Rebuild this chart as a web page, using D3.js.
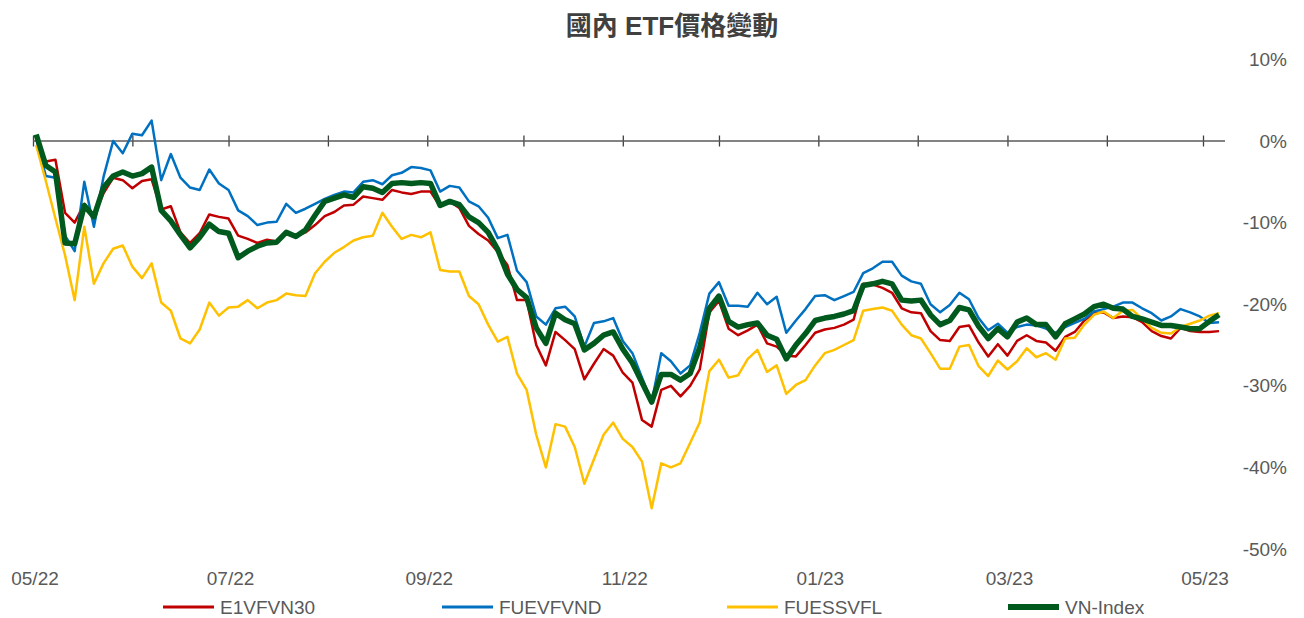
<!DOCTYPE html>
<html>
<head>
<meta charset="utf-8">
<script src="https://cdn.jsdelivr.net/npm/d3@7"></script>
<style>
  body { margin: 0; background: #fff; }
  svg { display: block; }
</style>
</head>
<body>
<div id="chart"></div>
<script>
(function () {
    // sampled every 3 days from 2022-05-02, values in %
    var startDate = new Date(2022, 4, 2);
    var stepDays = 3;

    var e1vfvn30 = [0.3, -2.5, -2.3, -8.8, -10, -7.7, -9.2, -6.4, -4.5, -4.8,
        -5.8, -4.9, -4.7, -8.4, -8, -11.2, -12.5, -11.3, -9.0, -9.3,
        -9.5, -11.6, -12.0, -12.5, -12.1, -12.3, -11.2, -11.7, -11.2, -10.3,
        -9.2, -8.7, -7.9, -7.8, -6.8, -7.0, -7.2, -6.0, -6.3, -6.5,
        -6.2, -6.2, -8.0, -7.4, -8.2, -10.4, -11.4, -12.2, -13.6, -15.2,
        -19.5, -19.5, -25.0, -27.5, -23.4, -24.4, -25.5, -29.2, -27.3, -25.5,
        -26.3, -28.4, -29.6, -34.2, -35, -30.5, -30, -31.3, -30, -28,
        -21, -19.6, -23, -23.8, -23.2, -22.5, -24.8, -25.2, -26.3, -26.4,
        -25, -23.5, -23.1, -22.9, -22.5, -21.9, -17.5, -17.6, -18, -18.6,
        -20.5, -21, -21.1, -23.3, -24.4, -24.5, -22.8, -22.6, -24.7, -26.4,
        -24.9, -26.3, -24.5, -23.8, -24.5, -24.7, -25.7, -24, -23.4, -22,
        -21.1, -21, -21.7, -21.5, -21.6, -22.2, -23.3, -23.9, -24.2, -22.9,
        -23.3, -23.4, -23.4, -23.3];

    var fuevfvnd = [0.3, -4.3, -4.5, -11.6, -13.5, -5, -10.5, -4.4, 0, -1.5,
        0.9, 0.7, 2.5, -4.8, -1.6, -4.5, -5.7, -6.0, -3.5, -5.2,
        -6.0, -8.5, -9.2, -10.3, -10.0, -9.9, -7.7, -8.8, -8.3, -7.7,
        -7.1, -6.6, -6.2, -6.3, -5.0, -4.8, -5.3, -4.2, -3.9, -3.2,
        -3.3, -3.6, -6.2, -5.5, -5.7, -7.4, -8.0, -9.4, -11.9, -11.5,
        -15.9, -17.3, -21.5, -22.5, -20.5, -20.3, -21.5, -25.2, -22.3, -22.1,
        -21.7, -24.5, -26, -29, -32, -26, -27, -28.5, -27.5, -23.5,
        -18.7, -17.3, -20.2, -20.2, -20.3, -18.6, -20, -19.1, -23.5, -22,
        -20.6, -19, -18.9, -19.5, -19.0, -18.5, -16.2, -15.6, -14.8, -14.8,
        -16.5, -17.2, -17.5, -20, -21, -20.1, -18.6, -19.4, -21.7, -23.2,
        -22.4, -23.5, -22.8, -22.5, -22.6, -23, -23.5, -22.8, -22.3, -21.8,
        -20.9, -20.6, -20.3, -19.8, -19.8, -20.5, -21.1, -22, -21.5, -20.6,
        -21, -21.5, -22.3, -22.2];

    var fuessvfl = [-0.5, -4.9, -9.5, -14, -19.5, -10.5, -17.5, -15, -13.2, -12.8,
        -15.4, -16.8, -15, -19.8, -20.8, -24.2, -24.8, -23.1, -19.8, -21.4,
        -20.4, -20.3, -19.5, -20.5, -19.8, -19.5, -18.7, -18.9, -19, -16.2,
        -14.8, -13.7, -13.0, -12.2, -11.8, -11.6, -8.8, -10.5, -12, -11.5,
        -11.8, -11.2, -15.8, -16, -16, -19, -20, -22.5, -24.6, -24,
        -28.5, -30.5, -36, -40, -34.7, -35, -37.5, -42, -39, -36,
        -34.5, -36.5, -37.5, -39.3, -45, -39.5, -40, -39.5, -37, -34.5,
        -28.2, -26.8, -29, -28.7, -26.7, -25.6, -28.3, -27.5, -31, -29.9,
        -29.3, -27.5, -26, -25.6, -25, -24.4, -20.8, -20.6, -20.4, -20.8,
        -22.5, -23.8, -24.2, -26, -27.9, -27.9, -25.2, -25, -27.6, -28.8,
        -26.9, -28, -27, -25.4, -26.5, -26, -26.8, -24.2, -24.1, -22.5,
        -21.3, -20.9, -21.7, -20.8, -20.7, -21.8, -22.9, -23.5, -23.6, -22.8,
        -22.4, -22.0, -21.4, -21.1];

    var vnIndex = [0.8, -3, -3.8, -12.5, -12.6, -7.9, -9.3, -5.7, -4.3, -3.8,
        -4.3, -4.0, -3.2, -8.5, -9.8, -11.5, -13.1, -11.8, -10.2, -11.1,
        -11.3, -14.3, -13.5, -12.9, -12.5, -12.4, -11.2, -11.7, -10.9, -9.1,
        -7.4, -7.0, -6.6, -6.9, -5.6, -5.8, -6.3, -5.2, -5.1, -5.2,
        -5.1, -5.2, -7.9, -7.4, -7.8, -9.3, -10, -11.2, -13.3, -16.3,
        -18.2, -19.2, -22.9, -24.8, -21.1, -21.9, -22.4, -25.6, -24.8, -23.8,
        -23.4, -25.5, -27.2, -29.6, -32, -28.6, -28.6, -29.3, -28.5, -25.3,
        -20.5, -19, -22.1, -22.8, -22.5, -22.3, -23.8, -24.3, -26.7, -25,
        -23.6, -22, -21.7, -21.5, -21.2, -20.8, -17.7, -17.5, -17.2, -17.5,
        -19.5, -19.6, -19.5, -21.3, -22.5, -22, -20.4, -20.7, -22.7, -24.2,
        -23, -24, -22.2, -21.7, -22.5, -22.5, -24, -22.4, -21.8, -21.2,
        -20.3, -20, -20.5, -20.6, -21.5, -21.8, -22.2, -22.6, -22.6, -22.8,
        -23, -23, -22.1, -21.3];

    var seriesNames = ['E1VFVN30', 'FUEVFVND', 'FUESSVFL', 'VN-Index'];
    var seriesColors = ['#c00000', '#0070c0', '#ffc000', '#005a1e'];
    var seriesWidths = [2.5, 2.5, 2.5, 5.5];
    var yTicks = [10, 0, -10, -20, -30, -40, -50];
    var xLabelMonths = ['05/22', '07/22', '09/22', '11/22', '01/23', '03/23', '05/23'];

    var w = 1304;
    var h = 618;

    var svg = d3.select('#chart')
        .append('svg')
            .attr('width', w)
            .attr('height', h)
            .style('font-family', '"Liberation Sans", Arial, sans-serif');

    var x = d3.scaleTime()
        .domain([new Date(2022, 4, 1), new Date(2023, 4, 1)])
        .range([33, 1203]);
    var y = d3.scaleLinear()
        .domain([-50, 10])
        .range([549, 59.4]);

    var dates = vnIndex.map(function (d, i) { return d3.timeDay.offset(startDate, i * stepDays); });
    var allSeries = [e1vfvn30, fuevfvnd, fuessvfl, vnIndex];

    // title
    svg.append('text')
        .attr('x', 672)
        .attr('y', 35)
        .attr('text-anchor', 'middle')
        .style('font-family', '"Liberation Sans", "Noto Sans CJK TC", sans-serif')
        .style('font-weight', 'bold')
        .style('font-size', '26px')
        .style('fill', '#404040')
        .text('國內 ETF價格變動');

    // right y labels
    svg.selectAll('.ylab')
        .data(yTicks)
        .enter()
        .append('text')
            .attr('class', 'ylab')
            .attr('x', 1287)
            .attr('y', function (d) { return y(d); })
            .attr('dy', '0.35em')
            .attr('text-anchor', 'end')
            .style('font-size', '19px')
            .style('fill', '#595959')
            .text(function (d) { return d + '%'; });

    // zero axis with monthly ticks
    var axis = d3.axisBottom(x)
        .ticks(d3.timeMonth.every(1))
        .tickSize(11)
        .tickFormat('');
    var axisG = svg.append('g')
        .attr('transform', 'translate(0,' + (y(0) - 5.5) + ')')
        .call(axis);
    axisG.select('.domain').remove();
    axisG.selectAll('.tick line')
        .attr('stroke', '#404040')
        .attr('stroke-width', 1.3);
    svg.append('line')
        .attr('x1', 33)
        .attr('x2', 1225)
        .attr('y1', y(0))
        .attr('y2', y(0))
        .attr('stroke', '#5a5a5a')
        .attr('stroke-width', 1.6);

    // bottom month labels
    var labelDates = d3.timeMonth.every(2).range(new Date(2022, 4, 1), new Date(2023, 4, 2));
    svg.selectAll('.xlab')
        .data(labelDates)
        .enter()
        .append('text')
            .attr('class', 'xlab')
            .attr('x', function (d) { return x(d) + 2; })
            .attr('y', 585)
            .attr('text-anchor', 'middle')
            .style('font-size', '19px')
            .style('fill', '#595959')
            .text(function (d, i) { return xLabelMonths[i]; });

    // lines
    var line = d3.line()
        .x(function (d, i) { return x(dates[i]); })
        .y(function (d) { return y(d); })
        .curve(d3.curveLinear);

    allSeries.forEach(function (s, k) {
        svg.append('path')
            .datum(s)
            .attr('d', line)
            .attr('fill', 'none')
            .attr('stroke', seriesColors[k])
            .attr('stroke-width', seriesWidths[k])
            .attr('stroke-linejoin', 'round');
    });

    // legend
    var legendX = [163, 442, 727, 1008];
    var legend = svg.selectAll('.leg')
        .data(seriesNames)
        .enter()
        .append('g')
            .attr('class', 'leg')
            .attr('transform', function (d, i) { return 'translate(' + legendX[i] + ',607)'; });
    legend.append('line')
        .attr('x1', 0)
        .attr('x2', 51)
        .attr('stroke', function (d, i) { return seriesColors[i]; })
        .attr('stroke-width', function (d, i) { return seriesWidths[i] + 0.5; });
    legend.append('text')
        .attr('x', 57)
        .attr('dy', '0.35em')
        .style('font-size', '19px')
        .style('fill', '#595959')
        .text(function (d) { return d; });
})();
</script>
</body>
</html>
